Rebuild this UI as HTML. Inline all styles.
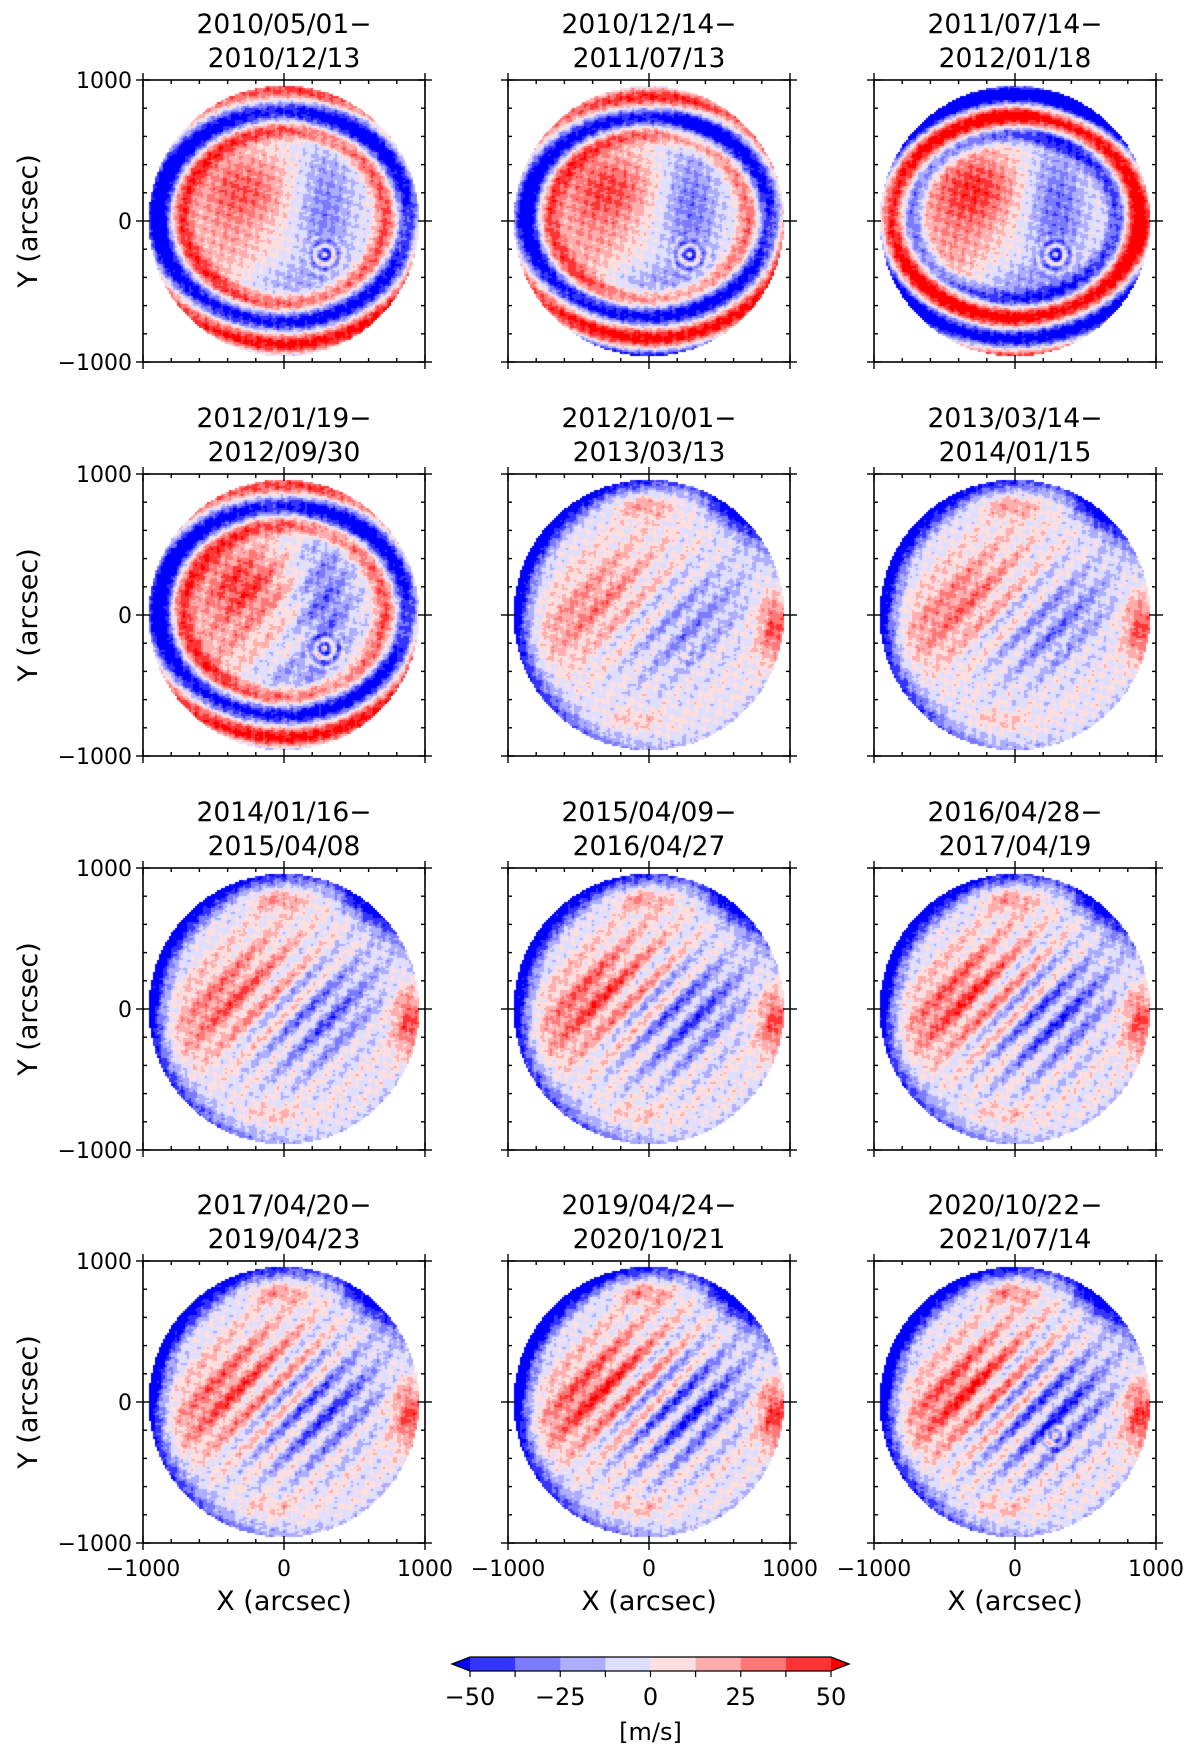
<!DOCTYPE html>
<html><head><meta charset="utf-8">
<style>
html,body{margin:0;padding:0;background:#fff;}
#root{position:relative;width:1200px;height:1751px;overflow:hidden;font-family:"DejaVu Sans","Liberation Sans",sans-serif;}
canvas{position:absolute;}
svg{position:absolute;left:0;top:0;}
</style></head>
<body>
<div id="root">
<svg id="ov" width="1200" height="1751"></svg>
</div>
<script>
// ---- data ----
const titleStart=["2010/05/01","2010/12/14","2011/07/14","2012/01/19","2012/10/01","2013/03/14","2014/01/16","2015/04/09","2016/04/28","2017/04/20","2019/04/24","2020/10/22"];
const titleEnd=["2010/12/13","2011/07/13","2012/01/18","2012/09/30","2013/03/13","2014/01/15","2015/04/08","2016/04/27","2017/04/19","2019/04/23","2020/10/21","2021/07/14"];
const ringAmp=[1,1,1.05,1,0,0,0,0,0,0,0,0];
const ringPhase=[0,0.4,3.1,0.1,0,0,0,0,0,0,0,0];
const ringAy=[0.78,0.76,0.74,0.78,1,1,1,1,1,1,1,1];
const blobAmp=[0.9,1.0,1.1,1.0,0.7,0.8,0.85,0.95,0.95,0.9,1.0,1.0];
const stripeAmp=[0,0,0,0.4,0.55,0.6,0.8,0.9,1.0,1.0,1.1,1.1];
const limbAmp=[0.4,0.4,0.4,0.4,1,1,1,1,1,1,1.1,1.1];
const spotAmp=[1,1,1.1,1,0.3,0.3,0,0,0,0,0,0.7];
const levels=[-50,-37.5,-25,-12.5,0,12.5,25,37.5,50];
const colors=["#0000ff","#3535ff","#7b7bff","#adadff","#dedeff","#ffdede","#ffadad","#ff7777","#ff3535","#ff0000"];
const xTicks=[-1000,0,1000];
const cbTicks=[-50,-25,0,25,50];

// ---- layout ----
const colX=[143,508,874], rowY=[80,474,868,1261], AW=282, AH=282;
const R=960;
const sx=v=>v/1000*AW/2+AW/2, sy=v=>AH/2-v/1000*AH/2;
function colorOf(v){let i=0;while(i<levels.length&&v>=levels[i])i++;return colors[i];}
const g=(x,y,cx,cy,a,b)=>Math.exp(-((x-cx)*(x-cx)/a+(y-cy)*(y-cy)/b));
function field(x,y,p){
  const r=Math.hypot(x,y), th=Math.atan2(y,x);
  const w=(x-y)/Math.SQRT2;
  let v=0;
  const early=ringAmp[p]>0;
  if(early){
    v+=blobAmp[p]*38*g(x,y,-0.3,0.25,0.12,0.08);
    v+=blobAmp[p]*18*g(x,y,-0.45,-0.2,0.1,0.15);
    v-=blobAmp[p]*32*g(x,y,0.3,0.1,0.05,0.25);
    v-=blobAmp[p]*18*g(x,y,0.0,-0.45,0.12,0.02);
  }else{
    const ur=(x+0.45+y-0.05)/Math.SQRT2, wr=(x+0.45-(y-0.05))/Math.SQRT2;
    v+=blobAmp[p]*36*Math.exp(-(ur*ur/0.35+wr*wr/0.06));
    const ub=(x-0.35+y+0.05)/Math.SQRT2, wb=(x-0.35-(y+0.05))/Math.SQRT2;
    v-=blobAmp[p]*30*Math.exp(-(ub*ub/0.3+wb*wb/0.07));
  }
  v+=stripeAmp[p]*26*Math.sin(2*Math.PI*w/0.17)*g(x,y,0.05,0,0.45,0.45);
  const lw=Math.exp(-(r-1)*(r-1)/0.018);
  let ang=Math.pow(0.5+0.5*Math.cos(th-2.7),1.6);
  ang=Math.max(ang,0.9*Math.exp(-(th-0.9)*(th-0.9)/0.1));
  v-=limbAmp[p]*62*lw*ang;
  v-=limbAmp[p]*10*Math.exp(-(r-1)*(r-1)/0.004);
  v+=limbAmp[p]*45*g(x,y,0.95,-0.1,0.02,0.08);
  v+=limbAmp[p]*28*g(x,y,-0.05,0.82,0.06,0.008);
  v+=limbAmp[p]*15*g(x,y,-0.1,-0.78,0.06,0.006);
  if(early){
    const rho=Math.hypot(x/0.92,(y-0.03)/ringAy[p]);
    const env=Math.min(1,Math.max(0,(rho-0.66)/0.22));
    v-=ringAmp[p]*58*Math.cos(2*Math.PI*(rho-1)/0.42+ringPhase[p])*env;
  }
  const d=Math.hypot(x-0.3,y+0.25);
  v+=spotAmp[p]*30*Math.cos(2*Math.PI*d/0.07)*Math.exp(-d*d/0.015);
  v+=9*Math.sin(x*53+y*31)*Math.sin(y*47-x*23)+6*Math.sin(x*97-y*71+p)*Math.cos(x*41+y*89);
  return v;
}
const root=document.getElementById('root');
const ov=document.getElementById('ov');
const NS="http://www.w3.org/2000/svg";
function mk(tag,attrs,parent){const e=document.createElementNS(NS,tag);for(const k in attrs)e.setAttribute(k,attrs[k]);(parent||ov).appendChild(e);return e;}
const minus=s=>String(s).replace('-','\u2212');

for(let p=0;p<12;p++){
  const c=p%3, rr=Math.floor(p/3), X0=colX[c], Y0=rowY[rr];
  const cv=document.createElement('canvas');
  cv.width=AW;cv.height=AH;cv.style.left=X0+'px';cv.style.top=Y0+'px';
  
  
  root.insertBefore(cv,ov);
  const ctx=cv.getContext('2d');
  const cell=2, step=2000/(AW/cell);
  for(let i=0;i<AW/cell;i++)for(let j=0;j<AH/cell;j++){
    const ax=-1000+(i+0.5)*step, ay=1000-(j+0.5)*step;
    const x=ax/R, y=ay/R;
    if(x*x+y*y>1)continue;
    ctx.fillStyle=colorOf(field(x,y,p));
    ctx.fillRect(sx(ax-step/2),sy(ay+step/2),cell,cell);
  }
  const gp=mk('g',{transform:`translate(${X0},${Y0})`});
  
  
  const fr=mk('rect',{x:0,y:0,width:AW,height:AH,fill:'none',stroke:'#000','stroke-width':1.6},gp);
  
  
  for(let t=-1000;t<=1000;t+=200){
    const major=(t%1000===0);
    const a=major?7:0, b=major?7:4;
    const px=sx(t), py=sy(t);
    mk('line',{x1:px,y1:-a,x2:px,y2:b,stroke:'#000','stroke-width':1.4},gp);
    mk('line',{x1:px,y1:AH-b,x2:px,y2:AH+a,stroke:'#000','stroke-width':1.4},gp);
    mk('line',{x1:-a,y1:py,x2:b,y2:py,stroke:'#000','stroke-width':1.4},gp);
    mk('line',{x1:AW-b,y1:py,x2:AW+a,y2:py,stroke:'#000','stroke-width':1.4},gp);
  }
  const t1=mk('text',{x:AW/2,y:-47,'text-anchor':'middle','font-size':26.5},gp);
  t1.textContent=titleStart[p]+'\u2212';
  
  
  const t2=mk('text',{x:AW/2,y:-13,'text-anchor':'middle','font-size':26.5},gp);
  t2.textContent=titleEnd[p];
  
  
  if(c===0){
    xTicks.forEach(t=>{const tl=mk('text',{x:-11,y:sy(t)+8,'text-anchor':'end','font-size':22},gp);tl.textContent=minus(t);
      
      });
    const yl=mk('text',{x:0,y:0,'text-anchor':'middle','font-size':27,transform:`translate(-106,${AH/2}) rotate(-90)`},gp);
    yl.textContent='Y (arcsec)';
    
    
  }
  if(rr===3){
    xTicks.forEach(t=>{const tl=mk('text',{x:sx(t),y:AH+33,'text-anchor':'middle','font-size':22},gp);tl.textContent=minus(t);
      
      });
    const xl=mk('text',{x:AW/2,y:AH+67,'text-anchor':'middle','font-size':27},gp);
    xl.textContent='X (arcsec)';
    
    
  }
}
// ---- colorbar ----
const cbL=470,cbR=831,cbT=1657,cbB=1671;
const cbx=v=>cbL+(v+50)/100*(cbR-cbL);
const cb=mk('g',{});


for(let i=0;i<levels.length-1;i++){
  const rc=mk('rect',{x:cbx(levels[i]),y:cbT,width:cbx(levels[i+1])-cbx(levels[i])+0.5,height:cbB-cbT,fill:colors[i+1]},cb);
  
  
}
mk('polygon',{points:`${cbL},${cbT} ${cbL-18},${(cbT+cbB)/2} ${cbL},${cbB}`,fill:colors[0]},cb);
mk('polygon',{points:`${cbR},${cbT} ${cbR+18},${(cbT+cbB)/2} ${cbR},${cbB}`,fill:colors[9]},cb);
mk('polygon',{points:`${cbL},${cbT} ${cbR},${cbT} ${cbR+18},${(cbT+cbB)/2} ${cbR},${cbB} ${cbL},${cbB} ${cbL-18},${(cbT+cbB)/2}`,fill:'none',stroke:'#000','stroke-width':1.3},cb);
levels.forEach(l=>mk('line',{x1:cbx(l),y1:cbB,x2:cbx(l),y2:cbB+6,stroke:'#000','stroke-width':1.2},cb));
cbTicks.forEach(t=>{const tl=mk('text',{x:cbx(t),y:1705,'text-anchor':'middle','font-size':24},cb);tl.textContent=minus(t);
  
  });
const cu=mk('text',{x:(cbL+cbR)/2,y:1740,'text-anchor':'middle','font-size':24},cb);
cu.textContent='[m/s]';


</script>
</body></html>
